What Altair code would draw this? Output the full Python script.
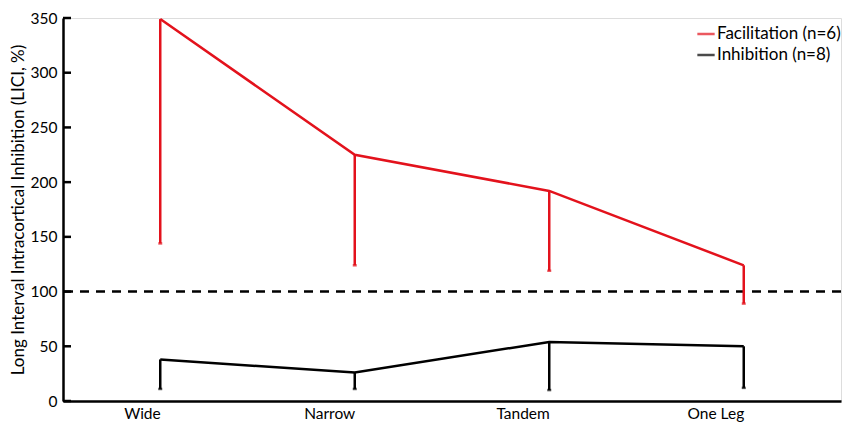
import altair as alt
import pandas as pd

conditions = ["Wide", "Narrow", "Tandem", "One Leg"]
series_names = ["Facilitation (n=6)", "Inhibition (n=8)"]
fac_mean = [349, 225, 192, 124]
fac_low = [144, 124, 119, 89]
inh_mean = [38, 26, 54, 50]
inh_low = [11, 11, 10, 12]
y_ticks = [0, 50, 100, 150, 200, 250, 300, 350]
baseline = [100]
colors = ["#e3121c", "#000000"]

rows = []
for name, means, lows in [(series_names[0], fac_mean, fac_low),
                          (series_names[1], inh_mean, inh_low)]:
    for c, m, l in zip(conditions, means, lows):
        rows.append({"series": name, "condition": c, "mean": m, "low": l})
df = pd.DataFrame(rows)
base_df = pd.DataFrame({"y": baseline})
tick_df = pd.DataFrame({"y": y_ticks})

FONT = "Lato"

x_enc = alt.X("condition:N", sort=conditions,
              scale=alt.Scale(type="point", padding=0.5),
              axis=alt.Axis(title=None, labelAngle=0, ticks=False, labelPadding=12,
                            labelFontSize=15.5, labelFont=FONT, labelColor="black",
                            domainColor="black", domainWidth=2.5))
y_scale = alt.Scale(domain=[0, 350], nice=False)
color_enc = alt.Color("series:N", scale=alt.Scale(domain=series_names, range=colors),
                      legend=alt.Legend(title=None, orient="none", legendX=633, legendY=6,
                                        symbolType="stroke", symbolStrokeWidth=2.5,
                                        symbolSize=300, labelFontSize=17, labelFont=FONT,
                                        labelColor="black", rowPadding=3, labelOffset=1))

line = alt.Chart(df).mark_line(strokeWidth=2.5).encode(
    x=x_enc,
    y=alt.Y("mean:Q", scale=y_scale,
            axis=alt.Axis(title="Long Interval Intracortical Inhibition (LICI, %)",
                          values=y_ticks, grid=False, ticks=False,
                          domainColor="black", domainWidth=2.5,
                          labelFontSize=15.5, labelFont=FONT, labelColor="black",
                          titleFontSize=17, titleFont=FONT, titleFontWeight="normal",
                          titleColor="black", titlePadding=3, labelPadding=6)),
    color=color_enc,
)

err = alt.Chart(df).mark_rule(strokeWidth=2.5).encode(
    x=alt.X("condition:N", sort=conditions),
    y="low:Q",
    y2="mean:Q",
    color="series:N",
)

caps = alt.Chart(df).mark_tick(thickness=2.5, size=4).encode(
    x=alt.X("condition:N", sort=conditions),
    y="low:Q",
    color="series:N",
)

ref = alt.Chart(base_df).mark_rule(strokeDash=[9, 7], strokeWidth=2.5, color="black").encode(
    y="y:Q"
)

inner_ticks = alt.Chart(tick_df).mark_rule(strokeWidth=2.5, color="black").encode(
    y="y:Q", x=alt.value(0), x2=alt.value(8)
)

chart = alt.layer(ref, inner_ticks, err, caps, line).properties(
    width=778, height=383,
    autosize=alt.AutoSizeParams(type="none"),
    padding={"left": 55, "top": 10, "right": 1, "bottom": 35},
).configure_view(stroke=None).configure(font=FONT)

chart.save("out.html", embed_options={"renderer": "svg", "actions": False})
